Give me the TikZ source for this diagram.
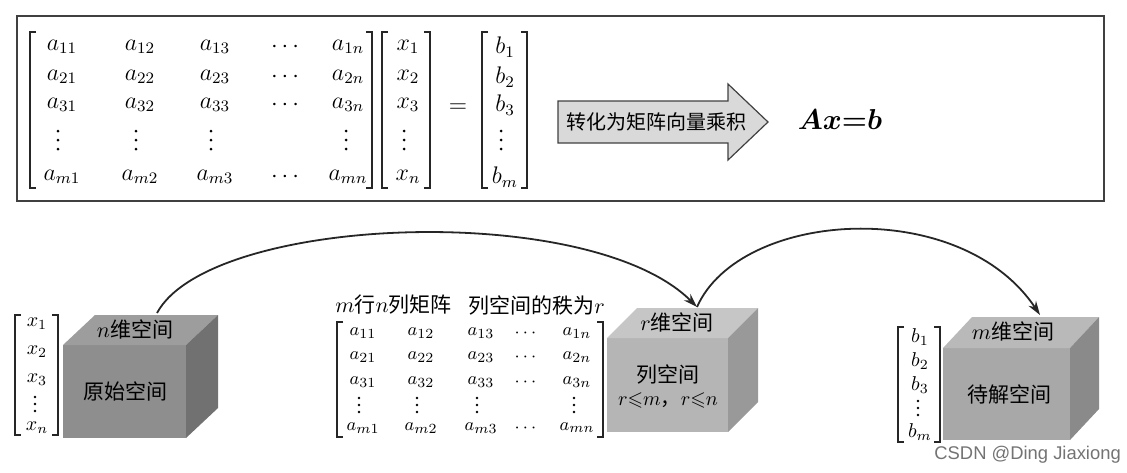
\documentclass[tikz,border=0pt]{standalone}
\usepackage{amsmath,amssymb,bm}
\usepackage{fontspec}
\setsansfont{Liberation Sans}
\newfontfamily\cjk{Noto Sans CJK SC}
\usetikzlibrary{arrows.meta}

\definecolor{cubeAfront}{HTML}{8E8E8E}
\definecolor{cubeAtop}{HTML}{9D9D9D}
\definecolor{cubeAside}{HTML}{717171}
\definecolor{cubeBfront}{HTML}{B5B5B5}
\definecolor{cubeBtop}{HTML}{C6C6C6}
\definecolor{cubeBside}{HTML}{999999}
\definecolor{cubeCfront}{HTML}{A8A8A8}
\definecolor{cubeCtop}{HTML}{B9B9B9}
\definecolor{cubeCside}{HTML}{8A8A8A}

\begin{document}
\begin{tikzpicture}[x=0.5pt, y=-0.5pt]
    % --- styles ---
    \tikzstyle{brk}=[line width=0.6pt, black!85]
    \tikzstyle{entry}=[inner sep=0pt, font=\large]
    \tikzstyle{entrys}=[inner sep=0pt, font=\fontsize{9.5}{11}\selectfont]
    \tikzstyle{cn}=[inner sep=0pt, font=\cjk\fontsize{10.5}{12}\selectfont]
    \tikzstyle{link}=[-{Stealth[length=7pt, width=4.5pt]}, line width=0.9pt, black!85]

    \useasboundingbox (0,0) rectangle (1127,472);

    % ====== top: the system of equations ======
    \draw[line width=1.2pt, black!75] (17,16) rectangle (1104,201);

    % matrix A, vector x, vector b
    \foreach \rw/\rn/\yy in {1/1/47, 2/2/77, 3/3/105, m/n/177} {
        \node[entry] (A-\rw-1) at (62,\yy) {$a_{\rw1}$};
        \node[entry] (A-\rw-2) at (140,\yy) {$a_{\rw2}$};
        \node[entry] (A-\rw-3) at (215,\yy) {$a_{\rw3}$};
        \node[entry] (A-\rw-4) at (287,\yy) {$\cdots$};
        \node[entry] (A-\rw-n) at (348,\yy) {$a_{\rw n}$};
        \node[entry] (x-\rw) at (408,\yy) {$x_{\rn}$};
        \node[entry] (b-\rw) at (505,\yy) {$b_{\rw}$};
    }
    % vertical dots
    \foreach \cx in {58,136,211,346,404,501}
        \foreach \dy in {-9,0,9}
            \fill (\cx,140+\dy) circle (1.5);
    \node[entry] (eq) at (458,108) {$=$};

    % brackets
    \foreach \xl/\xr/\yt/\yb in {30/372/32/188, 382/430/32/188, 482/527/32/188,
                                 15/58/315/435, 337/603/322/437, 898/940/327/442} {
        \draw[brk] (\xl+6,\yt) -- (\xl,\yt) -- (\xl,\yb) -- (\xl+6,\yb);
        \draw[brk] (\xr-6,\yt) -- (\xr,\yt) -- (\xr,\yb) -- (\xr-6,\yb);
    }

    % block arrow
    \draw[fill=gray!30, draw=black!75, line width=0.6pt]
        (558,101) -- (728,101) -- (728,84) -- (768,122) -- (728,160) -- (728,143) -- (558,143) -- cycle;
    \node[cn, font=\cjk\fontsize{10}{12}\selectfont] (conv) at (656,122) {转化为矩阵向量乘积};
    \node[inner sep=0pt, font=\Large] (axb) at (840,119) {$\bm{Ax\mathord{=}b}$};

    % ====== bottom: the three spaces ======
    % x vector
    \foreach \yy/\s in {324/1, 352/2, 380/3} \node[entry, font=\normalsize] (xs-\s) at (37,\yy) {$x_{\s}$};
    \foreach \dy in {-7,0,7} \fill (35,404+\dy) circle (1.3);
    \node[entry, font=\normalsize] (xs-n) at (37,428) {$x_{n}$};

    % m x n matrix
    \node[cn, anchor=west] (title1) at (335,305) {$m$行$n$列矩阵};
    \node[cn, anchor=west] (title2) at (468,305) {列空间的秩为$r$};
    \foreach \rw/\yy in {1/333, 2/357, 3/382, m/428} {
        \node[entrys] (M-\rw-1) at (363,\yy) {$a_{\rw1}$};
        \node[entrys] (M-\rw-2) at (421,\yy) {$a_{\rw2}$};
        \node[entrys] (M-\rw-3) at (481,\yy) {$a_{\rw3}$};
        \node[entrys] (M-\rw-4) at (527,\yy) {$\cdots$};
        \node[entrys] (M-\rw-n) at (577,\yy) {$a_{\rw n}$};
    }
    \foreach \cx in {359,417,477,574}
        \foreach \dy in {-7,0,7}
            \fill (\cx,405+\dy) circle (1.3);

    % b vector
    \foreach \yy/\s in {337/1, 361/2, 385/3} \node[entry, font=\normalsize] (bs-\s) at (920,\yy) {$b_{\s}$};
    \foreach \dy in {-7,0,7} \fill (918,408+\dy) circle (1.3);
    \node[entry, font=\normalsize] (bs-m) at (920,432) {$b_{m}$};

    % cube 1: original space
    \begin{scope}[shift={(63,345)}]
        \fill[cubeAfront] (0,0) rectangle (123,93);
        \fill[cubeAtop] (0,0) -- (32,-30) -- (155,-30) -- (123,0) -- cycle;
        \fill[cubeAside] (123,0) -- (155,-30) -- (155,63) -- (123,93) -- cycle;
        \node[cn] (c1-top) at (72,-16) {$n$维空间};
        \node[cn] (c1-front) at (62,46) {原始空间};
        \coordinate (c1-src) at (94,-32);
    \end{scope}

    % cube 2: column space
    \begin{scope}[shift={(607,338)}]
        \fill[cubeBfront] (0,0) rectangle (121,94);
        \fill[cubeBtop] (0,0) -- (30,-30) -- (151,-30) -- (121,0) -- cycle;
        \fill[cubeBside] (121,0) -- (151,-30) -- (151,64) -- (121,94) -- cycle;
        \node[cn] (c2-top) at (70,-16) {$r$维空间};
        \node[cn] (c2-front) at (61,36) {列空间};
        \node[cn, font=\cjk\fontsize{10}{12}\selectfont] (c2-rank) at (61,62) {$r{\leqslant}m$，$r{\leqslant}n$};
        \coordinate (c2-dst) at (90,-31);
    \end{scope}

    % cube 3: space to solve
    \begin{scope}[shift={(943,348)}]
        \fill[cubeCfront] (0,0) rectangle (127,92);
        \fill[cubeCtop] (0,0) -- (29,-31) -- (156,-31) -- (127,0) -- cycle;
        \fill[cubeCside] (127,0) -- (156,-31) -- (156,61) -- (127,92) -- cycle;
        \node[cn] (c3-top) at (70,-17) {$m$维空间};
        \node[cn] (c3-front) at (66,46) {待解空间};
        \coordinate (c3-dst) at (97,-33);
    \end{scope}

    % arcs between the spaces
    \draw[link] (c1-src) .. controls +(53,-98) and +(-107,-107) .. (c2-dst);
    \draw[link] (c2-dst) .. controls +(43,-97) and +(-80,-120) .. (c3-dst);

    % watermark
    \node[font=\sffamily\fontsize{9.2}{11}\selectfont, text=black!55, inner sep=0pt, anchor=west] (wm) at (934,455) {CSDN @Ding Jiaxiong};

\end{tikzpicture}
\end{document}
